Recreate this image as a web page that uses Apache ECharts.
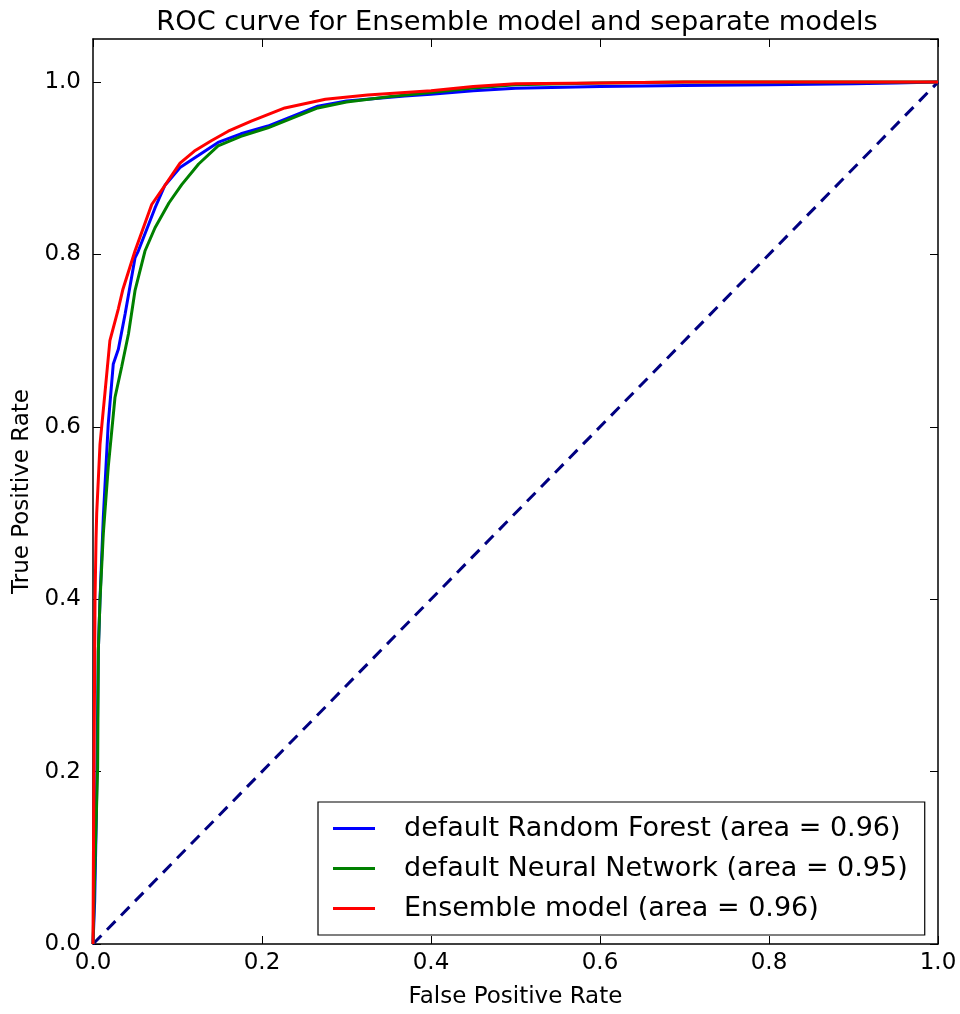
<!DOCTYPE html>
<html>
<head>
<meta charset="utf-8">
<script src="https://cdn.jsdelivr.net/npm/echarts@6/dist/echarts.min.js"></script>
<style>
  html, body { margin: 0; padding: 0; background: #fff; }
  #chart { width: 960px; height: 1014px; }
</style>
</head>
<body>
<div id="chart"></div>
<script>
// ROC points
const rfFpr = [0, 0.002, 0.004, 0.0063, 0.0083, 0.0122, 0.018, 0.024, 0.030, 0.038, 0.0497, 0.0536, 0.0734, 0.085, 0.103, 0.125, 0.148, 0.175, 0.207, 0.235, 0.266, 0.30, 0.369, 0.40, 0.45, 0.50, 0.60, 0.70, 0.80, 0.90, 0.95, 1.0];
const rfTpr = [0, 0.05, 0.15, 0.34, 0.40, 0.495, 0.603, 0.673, 0.69, 0.731, 0.796, 0.804, 0.854, 0.88, 0.901, 0.915, 0.930, 0.940, 0.949, 0.960, 0.972, 0.978, 0.984, 0.986, 0.990, 0.993, 0.995, 0.996, 0.997, 0.998, 0.999, 1.0];

const nnFpr = [0, 0.002, 0.0055, 0.0063, 0.0083, 0.0122, 0.018, 0.026, 0.034, 0.042, 0.0497, 0.0615, 0.0734, 0.090, 0.105, 0.125, 0.148, 0.175, 0.207, 0.235, 0.266, 0.30, 0.35, 0.40, 0.45, 0.50, 0.60, 0.70, 0.80, 0.90, 1.0];
const nnTpr = [0, 0.08, 0.205, 0.34, 0.399, 0.476, 0.553, 0.634, 0.67, 0.708, 0.758, 0.804, 0.831, 0.86, 0.881, 0.905, 0.926, 0.937, 0.947, 0.958, 0.970, 0.977, 0.983, 0.988, 0.993, 0.997, 0.999, 1.0, 1.0, 1.0, 1.0];

const ensFpr = [0, 0.0005, 0.0015, 0.0024, 0.0036, 0.0044, 0.0083, 0.0142, 0.020, 0.030, 0.0355, 0.0497, 0.0695, 0.085, 0.103, 0.120, 0.140, 0.160, 0.188, 0.227, 0.275, 0.325, 0.369, 0.40, 0.45, 0.50, 0.60, 0.70, 0.80, 0.90, 1.0];
const ensTpr = [0, 0.10, 0.25, 0.40, 0.47, 0.50, 0.58, 0.64, 0.70, 0.737, 0.76, 0.804, 0.858, 0.88, 0.906, 0.92, 0.932, 0.943, 0.955, 0.970, 0.980, 0.985, 0.988, 0.990, 0.995, 0.998, 0.999, 1.0, 1.0, 1.0, 1.0];

const chanceFpr = [0, 1];
const chanceTpr = [0, 1];

const seriesNames = [
  'default Random Forest (area = 0.96)',
  'default Neural Network (area = 0.95)',
  'Ensemble model (area = 0.96)'
];

const zip = (xs, ys) => xs.map((x, i) => [x, ys[i]]);

const chart = echarts.init(document.getElementById('chart'));
const font = 'DejaVu Sans';

const baseAxis = {
  type: 'value',
  min: 0,
  interval: 0.2,
  splitLine: { show: false },
  axisLine: { show: true, onZero: false, lineStyle: { color: '#000', width: 1.5 } },
  axisTick: { show: true, inside: true, length: 8, lineStyle: { color: '#000', width: 1 } }
};

chart.setOption({
  animation: false,
  backgroundColor: '#fff',
  textStyle: { fontFamily: font },
  title: {
    text: 'ROC curve for Ensemble model and separate models',
    left: 512,
    textAlign: 'center',
    top: 4,
    textStyle: { fontFamily: font, fontSize: 27.2, fontWeight: 'normal', color: '#000' }
  },
  grid: { left: 93, right: 22, top: 39, bottom: 70 },
  legend: {
    orient: 'vertical',
    left: 318,
    top: 802,
    padding: [13, 17, 13, 15],
    itemWidth: 42,
    itemHeight: 3,
    itemGap: 13,
    icon: 'rect',
    borderColor: '#000',
    borderWidth: 1.2,
    backgroundColor: '#fff',
    data: seriesNames,
    textStyle: { fontFamily: font, fontSize: 27, color: '#000', padding: [0, 0, 0, 24] }
  },
  xAxis: [
    Object.assign({}, baseAxis, {
      max: 1,
      position: 'bottom',
      name: 'False Positive Rate',
      nameLocation: 'middle',
      nameGap: 42,
      nameTextStyle: { fontFamily: font, fontSize: 23, color: '#000' },
      axisLabel: { color: '#000', fontSize: 23, fontFamily: font, margin: 8, formatter: v => v.toFixed(1) }
    }),
    Object.assign({}, baseAxis, { max: 1, position: 'top', axisLabel: { show: false } })
  ],
  yAxis: [
    Object.assign({}, baseAxis, {
      max: 1.05,
      position: 'left',
      name: 'True Positive Rate',
      nameLocation: 'middle',
      nameGap: 57,
      nameTextStyle: { fontFamily: font, fontSize: 23, color: '#000' },
      axisLabel: { color: '#000', fontSize: 23, fontFamily: font, margin: 12, showMaxLabel: false, formatter: v => v.toFixed(1) }
    }),
    Object.assign({}, baseAxis, { max: 1.05, position: 'right', axisLabel: { show: false } })
  ],
  series: [
    {
      name: seriesNames[0], type: 'line', showSymbol: false,
      data: zip(rfFpr, rfTpr),
      itemStyle: { color: '#0000ff' },
      lineStyle: { color: '#0000ff', width: 3 }
    },
    {
      name: seriesNames[1], type: 'line', showSymbol: false,
      data: zip(nnFpr, nnTpr),
      itemStyle: { color: '#008000' },
      lineStyle: { color: '#008000', width: 3 }
    },
    {
      name: seriesNames[2], type: 'line', showSymbol: false,
      data: zip(ensFpr, ensTpr),
      itemStyle: { color: '#ff0000' },
      lineStyle: { color: '#ff0000', width: 3 }
    },
    {
      name: 'chance', type: 'line', showSymbol: false,
      data: zip(chanceFpr, chanceTpr),
      lineStyle: { color: '#000080', width: 3, type: [12, 8] },
      z: 1
    }
  ]
});
</script>
</body>
</html>
